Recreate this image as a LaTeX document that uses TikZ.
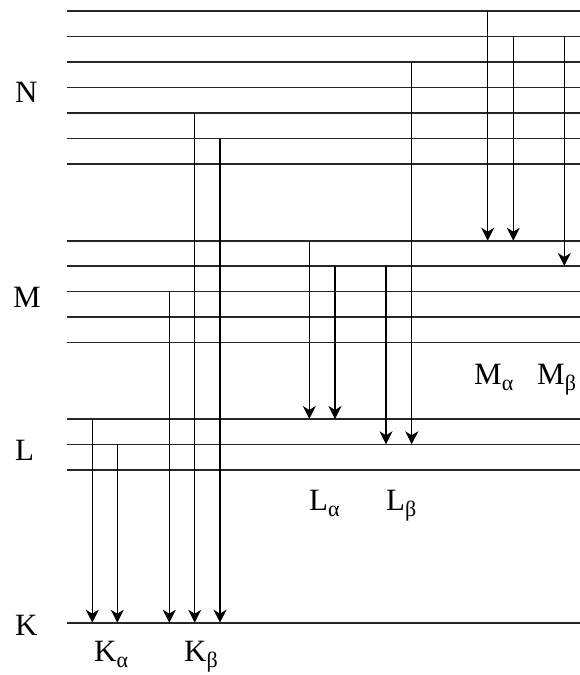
\documentclass[tikz,border=0pt]{standalone}
\usepackage{fontspec}
\setmainfont{Liberation Serif}
\usetikzlibrary{arrows.meta}

% lowered greek index after a line name
\newcommand{\lineidx}[1]{\raisebox{-6pt}{\fontsize{22}{22}\selectfont #1}}

\begin{document}
\begin{tikzpicture}[x=1pt,y=-1pt]
  \tikzstyle{level}=[line width=1.6pt,draw=black!85]
  \tikzstyle{trans}=[line width=1.5pt,-{Stealth[length=13pt,width=13pt,inset=4pt]}]
  \tikzstyle{shell}=[inner sep=0pt,anchor=base west,font=\fontsize{31}{34}\selectfont]
  \tikzstyle{series}=[inner sep=0pt,anchor=base west,font=\fontsize{31}{34}\selectfont]
  \useasboundingbox (0,0) rectangle (579,675);
  % energy levels
  \foreach \n/\y in {N1/11,N2/36.5,N3/62,N4/87.5,N5/113,N6/138.5,N7/164,
                     M1/240.7,M2/266,M3/291.3,M4/317,M5/342.3,
                     L1/419,L2/444.3,L3/470,K/622.7} {
    \coordinate (\n) at (67,\y);
    \draw[level] (\n) -- (590,\y);
  }
  % shell names
  \node[shell] (sN) at (15,102) {N};
  \node[shell] (sM) at (13,307) {M};
  \node[shell] (sL) at (15,460) {L};
  \node[shell] (sK) at (15,635) {K};
  % transitions
  \foreach \x/\from/\to in {92.3/L1/K,117.3/L2/K,
                            169.3/M3/K,194.7/N5/K,220/N6/K,
                            309.3/M1/L1,335/M2/L1,
                            386/M2/L2,411.7/N3/L2,
                            487.7/N1/M1,513.3/N2/M1,
                            564.3/N2/M2} {
    \draw[trans] (\x,0 |- \from) -- (\x,0 |- \to);
  }
  % series names
  \node[series] (ka) at (94,661) {K\lineidx{α}};
  \node[series] (kb) at (184,661) {K\lineidx{β}};
  \node[series] (la) at (309,510) {L\lineidx{α}};
  \node[series] (lb) at (386,510) {L\lineidx{β}};
  \node[series] (ma) at (474,384) {M\lineidx{α}};
  \node[series] (mb) at (537,384) {M\lineidx{β}};
\end{tikzpicture}
\end{document}
